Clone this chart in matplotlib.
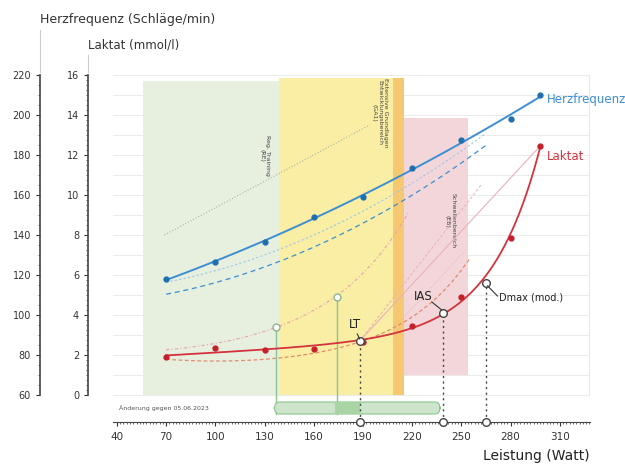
import numpy as np
import matplotlib
matplotlib.use("Agg")
import matplotlib.pyplot as plt
from matplotlib.lines import Line2D
from matplotlib.patches import FancyBboxPatch

# Messwerte Stufentest
leistung = [70, 100, 130, 160, 190, 220, 250, 280, 298]
herzfrequenz = [118, 126.5, 136.5, 149, 159, 173.5, 187.5, 198, 210]
laktat = [1.9, 2.35, 2.25, 2.3, 2.65, 3.45, 4.9, 7.85, 12.45]

# Vortest (gestrichelt)
vt_leistung = [70, 100, 130, 160, 190, 220, 250]
vt_hf = [110.5, 116, 124, 134, 146, 160, 176]
vt_laktat_leistung = [70, 100, 137, 174, 200, 215]
vt_laktat = [2.25, 2.6, 3.4, 4.9, 7.0, 8.8]
vt2_laktat_leistung = [70, 130, 190, 220, 240, 255]
vt2_laktat = [1.75, 1.9, 2.6, 3.8, 5.3, 7.0]

# Schwellen
schwellen_watt = [188, 239, 265]
schwellen_laktat = [2.7, 4.1, 5.6]
alt_schwellen_watt = [137, 174]
alt_schwellen_laktat = [3.4, 4.9]

# Trainingsbereiche: (von, bis, unten, oben)
zonen = [(56, 139, 0.0, 15.7, "#e7efdf"),
         (139, 208, 0.0, 15.85, "#f9eea3"),
         (208, 215, 0.0, 15.85, "#f6c872"),
         (215, 254, 1.0, 13.85, "#f3d6d9")]

x_ticks = [40, 70, 100, 130, 160, 190, 220, 250, 280, 310]

blau = "#3b8fd2"
rot = "#d4333d"


def log_fit(x, y, grad=2):
    p = np.poly1d(np.polyfit(x, np.log(y), grad))
    return lambda w: np.exp(p(np.asarray(w, float)))


def lin_exp_fit(x, y):
    # Laktat = a + b*w + c*exp(d*w)
    x = np.asarray(x, float)
    y = np.asarray(y, float)
    best = None
    for d in np.linspace(0.01, 0.15, 500):
        A = np.vstack([np.ones_like(x), x, np.exp(d * (x - 298))]).T
        coef, *_ = np.linalg.lstsq(A, y, rcond=None)
        err = np.sum((A @ coef - y) ** 2)
        if best is None or err < best[0]:
            best = (err, d, coef)
    _, d, c = best
    return lambda w: c[0] + c[1] * np.asarray(w) + c[2] * np.exp(d * (np.asarray(w) - 298))


fig = plt.figure(figsize=(6.25, 4.66), dpi=100)
ax = fig.add_axes([113 / 625, 44 / 466, 477 / 625, 347 / 466])
ax.set_xlim(37.6, 328.4)
ax.set_ylim(-1.35, 16)

# Hintergrund-Raster
for v in range(0, 17):
    ax.axhline(v, color="#e8e8e8", lw=0.6, zorder=0)
ax.plot([328, 328], [0, 16], color="#e8e8e8", lw=0.8, zorder=0)

for x0, x1, y0, y1, c in zonen:
    ax.fill_between([x0, x1], y0, y1, color=c, lw=0, zorder=1)

# Zonentexte
ax.text(130, 12.0, "Reg. Training\n(RE)", rotation=-90, fontsize=4.5,
        ha="center", va="center", color="#444", zorder=2)
ax.text(200, 14.1, "Extensive Grundlagen\nEntwicklungsbereich\n(GA1)", rotation=-90,
        fontsize=4.5, ha="center", va="center", color="#444", zorder=2)
ax.text(243, 8.7, "Schwellenbereich\n(EB)", rotation=-90, fontsize=4.5,
        ha="center", va="center", color="#444", zorder=2)

# alte Linie im Regenerationsbereich
ax.plot([69, 194], [8.0, 13.5], color="#a9b9a0", lw=0.8, ls=":", zorder=2)

# Vortest Herzfrequenz
vt_hf_fit = np.poly1d(np.polyfit(vt_leistung, vt_hf, 2))
ww = np.linspace(70, 265, 100)
ax.plot(ww, (vt_hf_fit(ww) - 60) / 10, color=blau, lw=0.9, ls=(0, (4, 3)), zorder=3)
ax.plot(ww, (vt_hf_fit(ww) + 6 - 60) / 10, color="#9cc7ea", lw=0.8, ls=(0, (2, 2)), zorder=3)

# Vortest Laktat
vt_fit = log_fit(vt_laktat_leistung, vt_laktat, 2)
ww = np.linspace(70, 218, 100)
ax.plot(ww, vt_fit(ww), color="#e6a3b0", lw=0.8, ls=(0, (3, 2, 1, 2)), zorder=3)

vt2_fit = log_fit(vt2_laktat_leistung, vt2_laktat, 2)
ww = np.linspace(70, 255, 100)
ax.plot(ww, vt2_fit(ww), color="#e58a6d", lw=0.9, ls=(0, (3, 2)), zorder=3)

# Dmax-Konstruktionslinien
ax.plot([schwellen_watt[0], leistung[-1]], [schwellen_laktat[0], laktat[-1]],
        color="#eab1bb", lw=0.8, zorder=3)
ax.plot([schwellen_watt[0], 262], [schwellen_laktat[0], 10.5],
        color="#eab1bb", lw=0.7, ls=(0, (3, 2)), zorder=3)
ax.plot([205, 252], [3.0, 7.2], color="#eab1bb", lw=0.7, ls=(0, (1, 2)), zorder=3)

# Alte Schwellen (grün)
for w, l in zip(alt_schwellen_watt, alt_schwellen_laktat):
    ax.plot([w, w], [-0.95, l], color="#8cc58c", lw=1.0, zorder=4)
    ax.plot(w, l, "o", ms=5, mfc="white", mec="#8fb28f", mew=1.0, zorder=6)

# Balken unten
ax.add_patch(FancyBboxPatch((136, -0.95), 101, 0.6, boxstyle="round,pad=0,rounding_size=3",
                            fc="#cde6cb", ec="#8cc58c", lw=0.8, zorder=4, mutation_aspect=0.12))
ax.fill_between([173, 188], -0.95, -0.35, color="#a9d5a4", lw=0, zorder=4)
ax.text(41, -0.65, "Änderung gegen 05.06.2023", fontsize=4.5, color="#555", va="center")

# Messkurven
ww = np.linspace(70, 298, 200)
hf_fit = np.poly1d(np.polyfit(leistung, herzfrequenz, 2))
lak_fit = lin_exp_fit(leistung, laktat)
ax.plot(ww, (hf_fit(ww) - 60) / 10, color=blau, lw=1.4, zorder=5)
ax.plot(leistung, (np.array(herzfrequenz) - 60) / 10, "o", color="#1f6fb0", ms=3.5, zorder=6)
ax.plot(ww, lak_fit(ww), color=rot, lw=1.3, zorder=5)
ax.plot(leistung, laktat, "o", color="#c51f2c", ms=3.5, zorder=6)

ax.text(302, 14.75, "Herzfrequenz", color=blau, fontsize=8.5, va="center")
ax.text(302, 11.95, "Laktat", color=rot, fontsize=8.5, va="center")

# Schwellen
for w, l in zip(schwellen_watt, schwellen_laktat):
    ax.plot([w, w], [-1.35, l], color="#444", lw=1.0, ls=(0, (1.5, 2.5)), zorder=5)
    ax.plot(w, l, "o", ms=5.5, mfc="white", mec="#444", mew=1.0, zorder=7)
    ax.plot(w, -1.35, "o", ms=5.5, mfc="white", mec="#444", mew=1.0, zorder=7, clip_on=False)

ax.plot([186.5, 188], [3.05, 2.8], color="#333", lw=0.8, zorder=7)
ax.text(185, 3.5, "LT", fontsize=8.5, ha="center", va="center", color="#222", zorder=7)
ax.plot([232, 238], [4.65, 4.25], color="#333", lw=0.8, zorder=7)
ax.text(227, 4.9, "IAS", fontsize=8.5, ha="center", va="center", color="#222", zorder=7)
ax.plot([266, 272], [5.45, 4.95], color="#333", lw=0.8, zorder=7)
ax.text(273, 4.85, "Dmax (mod.)", fontsize=7, ha="left", va="center", color="#222", zorder=7)

# Achsen
for s in ["top", "right"]:
    ax.spines[s].set_visible(False)
ax.spines["bottom"].set_color("#444")
ax.spines["bottom"].set_linewidth(0.8)
ax.set_xticks(x_ticks)
ax.set_xticks(np.arange(40, 329, 2), minor=True)
ax.tick_params(axis="x", which="major", length=3, labelsize=7.5, colors="#333", pad=4)
ax.tick_params(axis="x", which="minor", length=1.5, color="#555")

ax.spines["left"].set_position(("axes", -0.052))
ax.spines["left"].set_bounds(0, 16)
ax.spines["left"].set_color("#444")
ax.spines["left"].set_linewidth(1.2)
ax.set_yticks(range(0, 17, 2))
ax.set_yticks(np.arange(0, 16.01, 0.25), minor=True)
ax.tick_params(axis="y", which="major", length=3, labelsize=7, colors="#333")
ax.tick_params(axis="y", which="minor", length=1.5, color="#555")

ax2 = ax.twinx()
ax2.set_ylim(46.5, 220)
ax2.yaxis.set_ticks_position("left")
ax2.yaxis.set_label_position("left")
for s in ["top", "right", "bottom"]:
    ax2.spines[s].set_visible(False)
ax2.spines["left"].set_visible(True)
ax2.spines["left"].set_position(("axes", -0.153))
ax2.spines["left"].set_bounds(60, 220)
ax2.spines["left"].set_color("#444")
ax2.spines["left"].set_linewidth(1.2)
ax2.set_yticks(range(60, 221, 20))
ax2.set_yticks(range(60, 221, 5), minor=True)
ax2.tick_params(axis="y", which="major", length=3, labelsize=7, colors="#333")
ax2.tick_params(axis="y", which="minor", length=1.5, color="#555")

fig.text(40 / 625, 1 - 20 / 466, "Herzfrequenz (Schläge/min)", fontsize=9, color="#333",
         ha="left", va="center")
fig.text(88 / 625, 1 - 45 / 466, "Laktat (mmol/l)", fontsize=8.5, color="#333",
         ha="left", va="center")
fig.add_artist(Line2D([40 / 625, 40 / 625], [1 - 30 / 466, 1 - 72 / 466], color="#ccc", lw=0.8))
fig.add_artist(Line2D([88 / 625, 88 / 625], [1 - 55 / 466, 1 - 72 / 466], color="#ccc", lw=0.8))
fig.text(590 / 625, 1 - 456 / 466, "Leistung (Watt)", fontsize=10, color="#222",
         ha="right", va="center")

fig.savefig("out.png", dpi=100)
